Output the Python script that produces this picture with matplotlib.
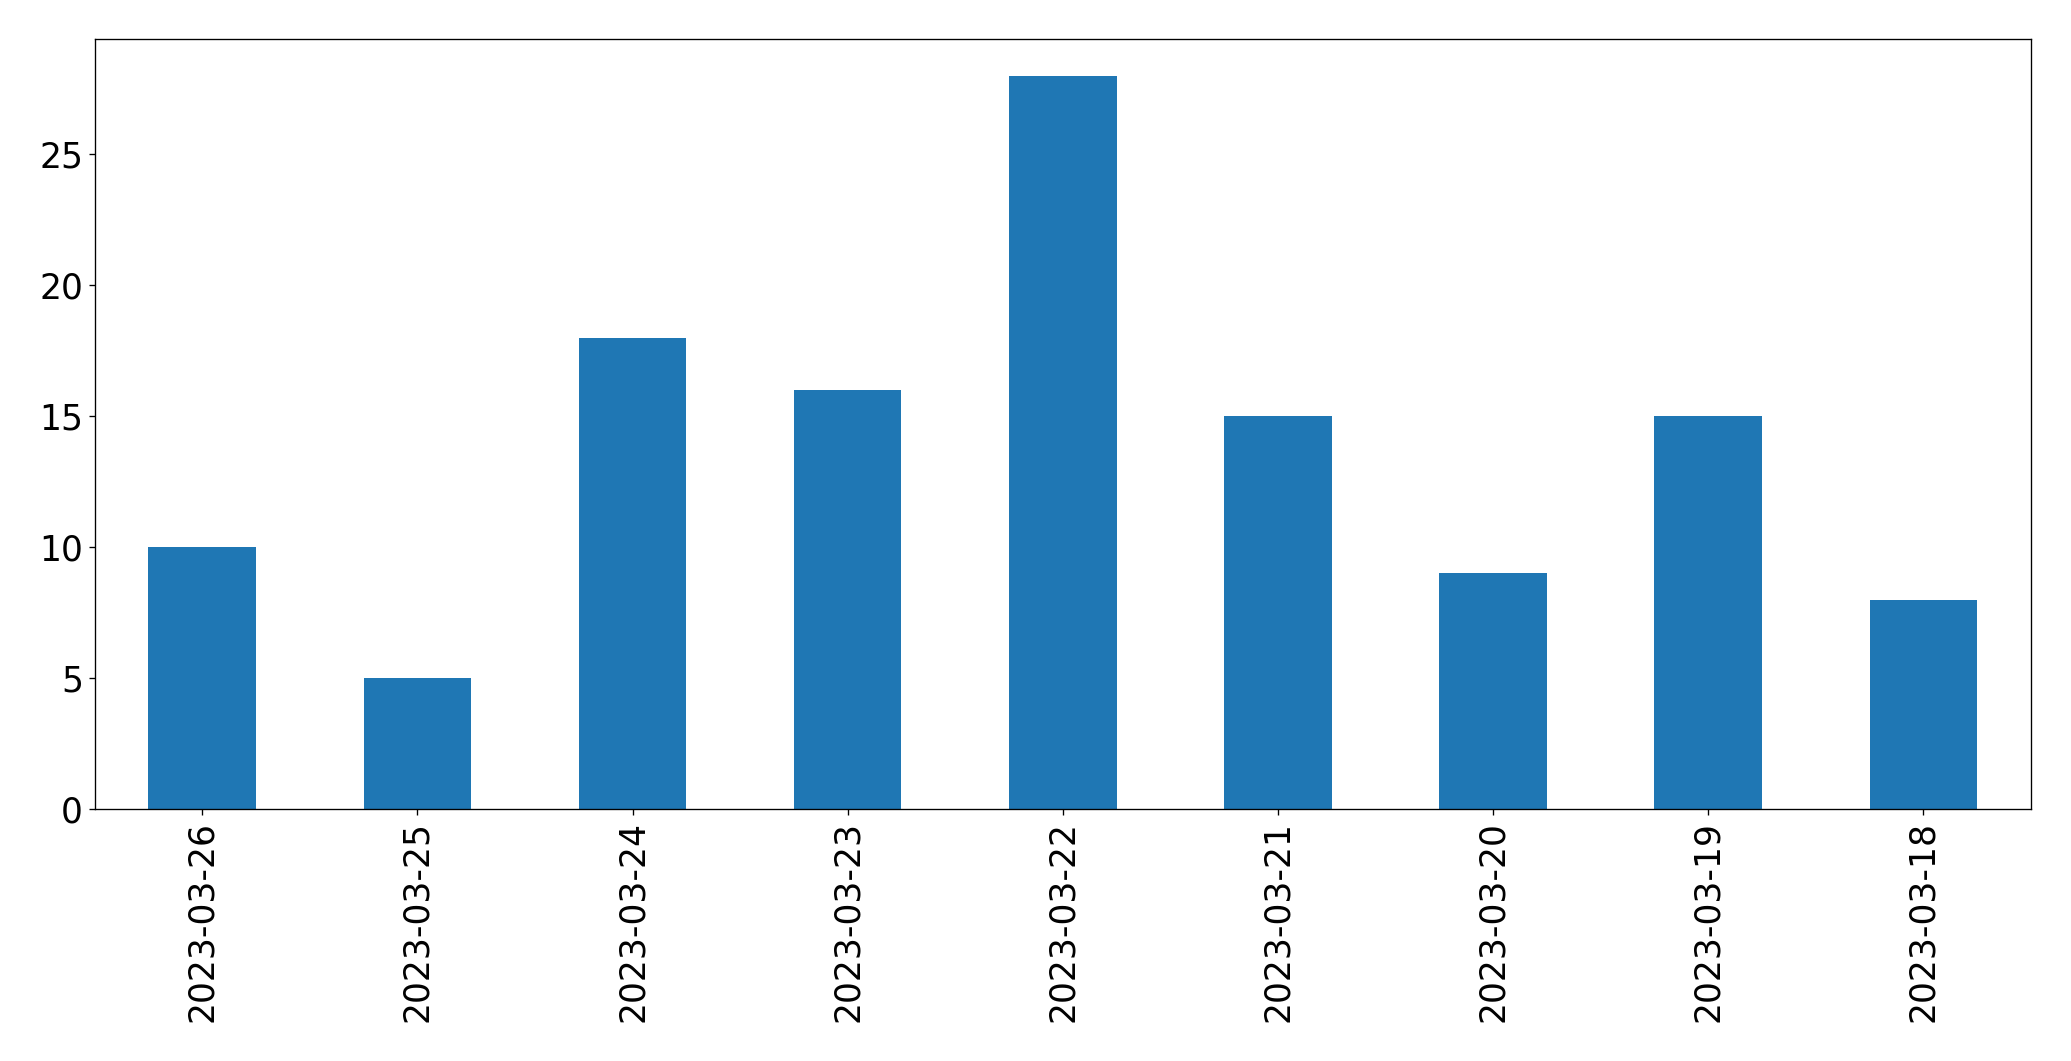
import numpy as np
import matplotlib
matplotlib.use("Agg")
import matplotlib.pyplot as plt

dates = ["2023-03-26", "2023-03-25", "2023-03-24", "2023-03-23", "2023-03-22",
         "2023-03-21", "2023-03-20", "2023-03-19", "2023-03-18"]
counts = [10, 5, 18, 16, 28, 15, 9, 15, 8]

fig = plt.figure(figsize=(2071 / 120, 1061 / 120), dpi=120)
ax = fig.add_axes([94.7 / 2071, 1 - 809 / 1061, (2031 - 94.7) / 2071, (809 - 39.3) / 1061])

x = np.arange(len(dates))
ax.bar(x, counts, width=0.5, color="#1f77b4")
ax.set_xlim(-0.5, len(dates) - 0.5)
ax.set_ylim(0, max(counts) * 1.05)
ax.set_xticks(x)
ax.set_xticklabels(dates, rotation=90)
ax.set_yticks([0, 5, 10, 15, 20, 25])
ax.tick_params(labelsize=20.8)

fig.savefig("out.png", dpi=120)
